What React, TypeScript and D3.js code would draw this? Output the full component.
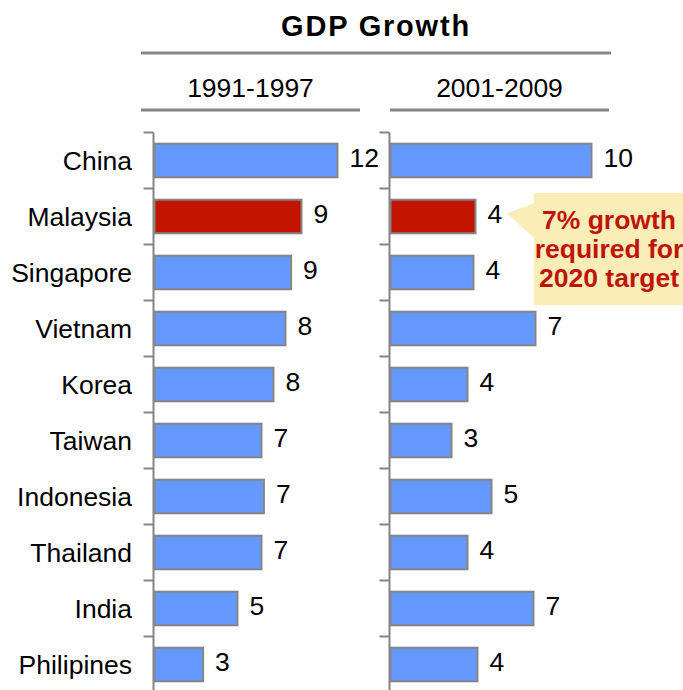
import React from "react";
import * as d3 from "d3";

const categories = ["China", "Malaysia", "Singapore", "Vietnam", "Korea", "Taiwan", "Indonesia", "Thailand", "India", "Philipines"];
const growth9197 = [11.5, 9.25, 8.6, 8.25, 7.5, 6.75, 6.9, 6.75, 5.25, 3.1];
const labels9197 = ["12", "9", "9", "8", "8", "7", "7", "7", "5", "3"];
const growth0109 = [10.1, 4.3, 4.2, 7.3, 3.9, 3.1, 5.1, 3.9, 7.2, 4.4];
const labels0109 = ["10", "4", "4", "7", "4", "3", "5", "4", "7", "4"];
const periods = ["1991-1997", "2001-2009"];
const highlight = "Malaysia";
const title = "GDP Growth";
const calloutLines = ["7% growth", "required for", "2020 target"];

const W = 683;
const H = 690;
const GRAY = "#858585";
const BLUE = "#6699FF";
const RED = "#C31400";
const FONT = "'Liberation Sans', Arial, sans-serif";
const FS = 26.5;

export default function App() {
  const y = d3.scaleBand<string>().domain(categories).range([132.5, 692.5]).padding(0);
  const barH = y.bandwidth() * 0.6;

  const panels = [
    { axisX: 153.5, values: growth9197, labels: labels9197, x: d3.scaleLinear().domain([0, 14]).range([0, 224]) },
    { axisX: 389.5, values: growth0109, labels: labels0109, x: d3.scaleLinear().domain([0, 11]).range([0, 220]) },
  ];

  const headerLines = [
    { x1: 141, x2: 360, label: periods[0] },
    { x1: 390, x2: 609, label: periods[1] },
  ];

  const maly = (y(highlight) as number) + y.bandwidth() / 2;

  return (
    <svg width={W} height={H} style={{ position: "absolute", left: 0, top: 0 }} fontFamily={FONT}>
      <rect width={W} height={H} fill="#fff" />
      <text x={376} y={36} textAnchor="middle" fontSize={29} fontWeight="bold" letterSpacing={1.8}>{title}</text>
      <line x1={141} x2={611} y1={53} y2={53} stroke={GRAY} strokeWidth={3} />
      {headerLines.map((h) => (
        <g key={h.label}>
          <text x={(h.x1 + h.x2) / 2} y={97} textAnchor="middle" fontSize={FS}>{h.label}</text>
          <line x1={h.x1} x2={h.x2} y1={110} y2={110} stroke={GRAY} strokeWidth={3} />
        </g>
      ))}

      {categories.map((c) => (
        <text key={c} x={132} y={(y(c) as number) + y.bandwidth() / 2} dy="0.36em" textAnchor="end" fontSize={FS}>{c}</text>
      ))}

      {panels.map((p, pi) => (
        <g key={pi}>
          {categories.map((c, i) => {
            const cy = (y(c) as number) + y.bandwidth() / 2;
            const w = p.x(p.values[i]);
            return (
              <g key={c}>
                <rect x={p.axisX + 1} y={cy - barH / 2} width={w - 1} height={barH}
                  fill={c === highlight ? RED : BLUE} stroke={GRAY} strokeWidth={2} />
                <text x={p.axisX + w + 12} y={cy} dy="0.26em" fontSize={FS}>{p.labels[i]}</text>
              </g>
            );
          })}
          <line x1={p.axisX} x2={p.axisX} y1={132.5} y2={H} stroke={GRAY} strokeWidth={2} />
          {categories.map((c) => (
            <line key={c} x1={p.axisX - 10} x2={p.axisX} y1={y(c) as number} y2={y(c) as number} stroke={GRAY} strokeWidth={2} />
          ))}
        </g>
      ))}

      <path d={`M534,193 L683,193 L683,305 L534,305 L534,238 L507,${maly - 3} L534,203 Z`} fill="#FAEDB8" />
      {calloutLines.map((t, i) => (
        <text key={t} x={609} y={229 + i * 29} textAnchor="middle" fontSize={FS} fontWeight="bold" fill="#C0140A">{t}</text>
      ))}
    </svg>
  );
}
